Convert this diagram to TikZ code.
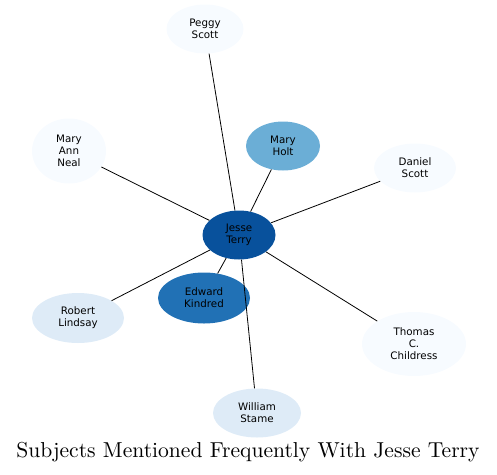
\documentclass[tikz,border=0pt]{standalone}
\usepackage{fontspec}
\newfontfamily\nodefont{DejaVu Sans}
\newfontfamily\titlefont{lmroman10-regular.otf}
\usetikzlibrary{shapes.geometric}

\definecolor{blueA}{HTML}{F7FBFF}
\definecolor{blueB}{HTML}{DEEBF7}
\definecolor{blueC}{HTML}{6BAED6}
\definecolor{blueD}{HTML}{2171B5}
\definecolor{blueE}{HTML}{08519C}

\tikzset{
  subj/.style={ellipse, inner sep=0pt, align=center,
    font=\nodefont\fontsize{10.3}{12}\selectfont},
  link/.style={black, line width=0.8pt}
}

\begin{document}
\begin{tikzpicture}[x=1pt, y=-1pt]

\useasboundingbox (0,0) rectangle (497,474);

% Personen
\node[subj, fill=blueE, minimum width=73, minimum height=49] (jesse) at (239,235) {Jesse\\Terry};
\node[subj, fill=blueA, minimum width=77, minimum height=49] (peggy) at (205,29) {Peggy\\Scott};
\node[subj, fill=blueC, minimum width=74, minimum height=49] (holt) at (283,146) {Mary\\Holt};
\node[subj, fill=blueA, minimum width=74, minimum height=65] (neal) at (69,151) {Mary\\Ann\\Neal};
\node[subj, fill=blueA, minimum width=82, minimum height=49] (daniel) at (415,168) {Daniel\\Scott};
\node[subj, fill=blueD, minimum width=92, minimum height=51] (kindred) at (204,298) {Edward\\Kindred};
\node[subj, fill=blueB, minimum width=92, minimum height=50] (robert) at (78,318) {Robert\\Lindsay};
\node[subj, fill=blueA, minimum width=104, minimum height=64] (thomas) at (414,344) {Thomas\\C.\\Childress};
\node[subj, fill=blueB, minimum width=88, minimum height=49] (william) at (257,413) {William\\Stame};

% Verbindungen
\foreach \n in {peggy, holt, neal, daniel, kindred, robert, thomas, william}
  \draw[link] (jesse) -- (\n);

% Titel
\node (title) at (248,452) {\titlefont\fontsize{21.6}{25}\selectfont Subjects Mentioned Frequently With Jesse Terry};

\end{tikzpicture}
\end{document}
